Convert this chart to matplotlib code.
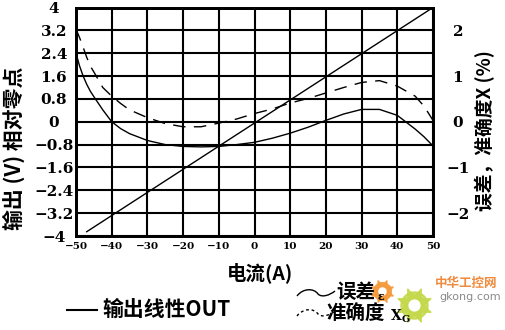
import matplotlib
matplotlib.use('Agg')
import matplotlib.pyplot as plt
from matplotlib.lines import Line2D
from matplotlib.path import Path
from matplotlib.patches import PathPatch

# 电流 (A)
current = [-50, -49, -48, -47, -46, -45, -42.5, -40, -37.5, -35, -30, -25, -20, -15,
           -10, -5, 0, 5, 10, 15, 20, 25, 30, 35, 40, 45, 47.5, 50]
# 误差 (%) - 实线
error_pct = [1.5, 1.22, 1.0, 0.82, 0.67, 0.55, 0.26, 0.0, -0.15, -0.26, -0.41, -0.5, -0.54, -0.55,
             -0.54, -0.5, -0.45, -0.36, -0.25, -0.12, 0.03, 0.17, 0.27, 0.27, 0.14, -0.16, -0.33, -0.53]
# 准确度 (%) - 虚线
accuracy_pct = [2.03, 1.84, 1.63, 1.41, 1.22, 1.09, 0.75, 0.56, 0.4, 0.26, 0.09, -0.04, -0.11, -0.11,
                -0.03, 0.06, 0.18, 0.28, 0.41, 0.51, 0.63, 0.75, 0.86, 0.9, 0.78, 0.56, 0.34, 0.03]
# 输出线性 OUT (V)
out_current = [-47, 50]
out_volt = [-3.85, 4.0]

x_ticks = [-50, -40, -30, -20, -10, 0, 10, 20, 30, 40, 50]
x_labels = ['−50', '−40', '−30', '−20', '−10', '0', '10', '20', '30', '40', '50']
y_ticks = [-4, -3.2, -2.4, -1.6, -0.8, 0, 0.8, 1.6, 2.4, 3.2, 4]
y_labels = ['−4', '−3.2', '−2.4', '−1.6', '−0.8', '0', '0.8', '1.6', '2.4', '3.2', '4']
y2_ticks = [-2, -1, 0, 1, 2]
y2_labels = ['−2', '−1', '0', '1', '2']

W, H = 505, 330
cjk = ['Noto Sans CJK SC', 'DejaVu Sans']


def px(x, y):
    # 像素坐标 -> figure 坐标
    return x / W, 1 - y / H


fig = plt.figure(figsize=(5.05, 3.3), dpi=100)
ax = fig.add_axes([76 / W, 1 - 236 / H, (433 - 76) / W, (236 - 7.5) / H])
ax2 = ax.twinx()

ax.set_xlim(-50, 50)
ax.set_ylim(-4, 4)
ax2.set_ylim(-2.5, 2.5)

# 网格
ax.set_xticks(x_ticks)
ax.set_yticks(y_ticks)
ax.grid(True, color='black', lw=1.5)
ax.set_axisbelow(True)
for a in (ax, ax2):
    for s in a.spines.values():
        s.set_linewidth(2)
        s.set_color('black')

ax.set_xticklabels(x_labels, fontfamily='DejaVu Serif', fontweight='bold', fontsize=7.5)
ax.set_yticklabels(y_labels, fontfamily='DejaVu Serif', fontweight='bold', fontsize=11, ha='center')
ax.tick_params(axis='x', length=0, pad=4)
ax.tick_params(axis='y', length=0, pad=16)

ax2.set_yticks(y2_ticks)
ax2.set_yticklabels(y2_labels, fontfamily='DejaVu Serif', fontweight='bold', fontsize=11, ha='center')
ax2.tick_params(axis='y', length=0, pad=18)

# 曲线
ax.plot(out_current, out_volt, color='black', lw=1.0)
ax2.plot(current, error_pct, color='black', lw=1.0)
ax2.plot(current, accuracy_pct, color='black', lw=1.0, dashes=(9, 6))

# 轴标题
fig.text(*px(14, 148), '输出 (V) 相对零点', rotation=90, ha='center', va='center',
         fontsize=15, fontweight='bold', family=cjk)
fig.text(*px(485, 131), '误差，准确度X (%)', rotation=90, ha='center', va='center',
         fontsize=13.5, fontweight='bold', family=cjk)
fig.text(*px(260, 273), '电流(A)', ha='center', va='center',
         fontsize=14, fontweight='bold', family=cjk)


# 水印 (齿轮 + 文字)
def gear(x, y, size, color):
    fx, fy = px(x, y)
    fig.add_artist(Line2D([fx], [fy], marker=(8, 1, 22.5), ms=size, color=color,
                          alpha=0.85, transform=fig.transFigure, zorder=1))
    fig.add_artist(Line2D([fx], [fy], marker='o', ms=size * 0.75, color=color,
                          alpha=0.85, transform=fig.transFigure, zorder=1))
    fig.add_artist(Line2D([fx], [fy], marker='o', ms=size * 0.3, color='white',
                          transform=fig.transFigure, zorder=1))


gear(382, 291, 17, '#f59a3a')
gear(414, 305, 26, '#c4d84a')
fig.text(*px(466, 283), '中华工控网', ha='center', va='center', fontsize=9,
         fontweight='bold', color='#f08a3c', family=cjk, zorder=1)
fig.text(*px(470, 297), 'gkong.com', ha='center', va='center', fontsize=8,
         color='#8a8a8a', zorder=1)

# 图例
fig.add_artist(Line2D([px(67, 310)[0], px(97, 310)[0]], [px(67, 310)[1], px(97, 310)[1]],
                      color='black', lw=1.5, transform=fig.transFigure))
fig.text(*px(102, 309), '输出线性OUT', ha='left', va='center', fontsize=15,
         fontweight='bold', family=cjk)


def wave(y0, dashed):
    pts = [px(297, y0 + 3), px(303, y0 - 5), px(314, y0 - 5), px(318, y0 + 1),
           px(322, y0 + 5), px(330, y0 + 2), px(335, y0 - 2)]
    codes = [Path.MOVETO] + [Path.CURVE4] * 6
    patch = PathPatch(Path(pts, codes), fill=False, lw=1.0, ec='black',
                      transform=fig.transFigure, ls=(0, (2, 2)) if dashed else '-')
    fig.add_artist(patch)


wave(293, False)
wave(313, True)
fig.text(*px(336, 293), '误差', ha='left', va='center', fontsize=14,
         fontweight='bold', family=cjk, zorder=3)
fig.text(*px(377, 297), 'ε', ha='left', va='center', fontsize=8,
         fontweight='bold', family='DejaVu Serif', zorder=3)
fig.text(*px(326, 314), '准确度', ha='left', va='center', fontsize=14,
         fontweight='bold', family=cjk, zorder=3)
fig.text(*px(391, 316), 'X', ha='left', va='center', fontsize=10,
         fontweight='bold', family='DejaVu Serif', zorder=3)
fig.text(*px(402, 320), 'G', ha='left', va='center', fontsize=7,
         fontweight='bold', family='DejaVu Serif', zorder=3)

fig.savefig('out.png', dpi=100)
